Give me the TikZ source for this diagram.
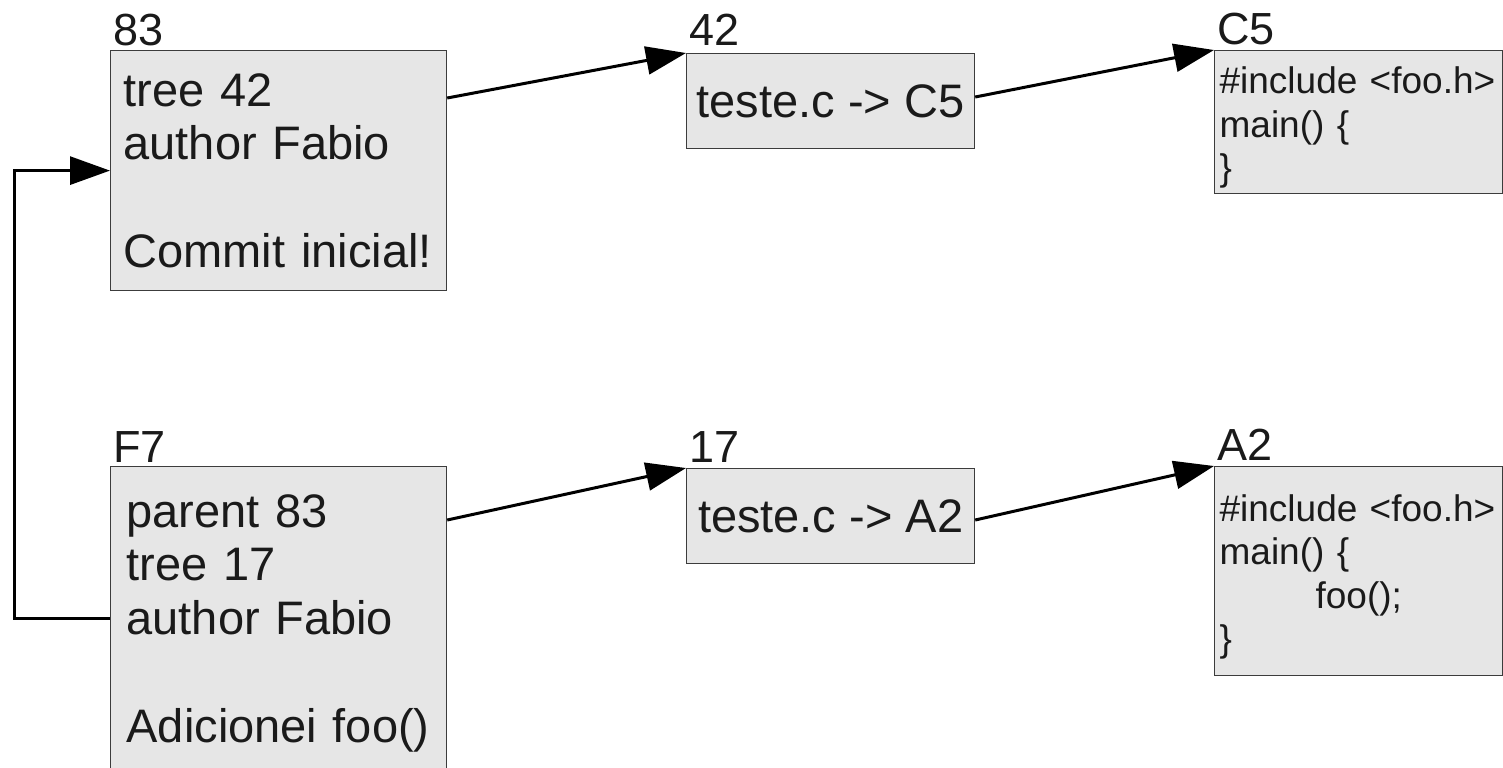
\documentclass[tikz,border=0pt]{standalone}
\usepackage{fontspec}
\setmainfont{Liberation Sans}
\usetikzlibrary{arrows.meta}
\definecolor{boxfill}{HTML}{E6E6E6}
\definecolor{boxline}{HTML}{3C3C3C}
\definecolor{ink}{HTML}{1A1A1A}

\begin{document}
\begin{tikzpicture}[x=0.5pt,y=-0.5pt,>={Triangle[length=20pt,width=14pt]},
  obj/.style={draw=boxline,fill=boxfill,line width=0.6pt,anchor=north west,inner ysep=0pt,text=ink,
    font=\fontsize{23.5}{26.85}\selectfont},
  commit/.style={obj,align=left,minimum width=168pt},
  treebox/.style={obj,inner xsep=0pt,minimum width=144pt,minimum height=47.5pt},
  code/.style={obj,align=left,text width=139pt,inner xsep=2.5pt,font=\fontsize{18.5}{21.75}\selectfont},
  tag/.style={anchor=base west,text=ink,inner sep=0pt,font=\fontsize{22.5}{26}\selectfont},
  link/.style={->,line width=1.5pt}]
\useasboundingbox (0,0) rectangle (1503,767);
% objects
\node[commit,text width=155pt,inner xsep=6.5pt,minimum height=120pt] (c83) at (110,50)
  {tree 42\\author Fabio\\\mbox{}\\Commit inicial!};
\node[commit,text width=152pt,inner xsep=8pt,minimum height=156.5pt] (cF7) at (110,466)
  {parent 83\\tree 17\\author Fabio\\\mbox{}\\Adicionei foo()};
\node[treebox] (t42) at (686,53) {teste.c -> C5};
\node[treebox] (t17) at (686,468) {teste.c -> A2};
\node[code,minimum height=71.5pt] (bC5) at (1214,50)
  {\rule{0pt}{19pt}\#include <foo.h>\\main() \{\\\}};
\node[code,minimum height=104.5pt] (bA2) at (1214,466)
  {\rule{0pt}{19pt}\#include <foo.h>\\main() \{\\\hspace*{48pt}foo();\\\}};
% hashes
\node[tag] (l83) at ([xshift=1.5pt,yshift=2.5pt]c83.north west) {83};
\node[tag] (lF7) at ([xshift=1.5pt,yshift=2pt]cF7.north west) {F7};
\node[tag] (l42) at ([xshift=1.5pt,yshift=4pt]t42.north west) {42};
\node[tag] (l17) at ([xshift=1.5pt,yshift=3pt]t17.north west) {17};
\node[tag] (lC5) at ([xshift=1.5pt,yshift=3pt]bC5.north west) {C5};
\node[tag] (lA2) at ([xshift=1.5pt,yshift=3pt]bA2.north west) {A2};
% pointers
\draw[link] ([yshift=-24pt]c83.north east) -- (t42.north west);
\draw[link] ([yshift=-22pt]t42.north east) -- (bC5.north west);
\draw[link] ([yshift=-27pt]cF7.north east) -- (t17.north west);
\draw[link] ([yshift=-26pt]t17.north east) -- (bA2.north west);
\draw[link] ([yshift=-76pt]cF7.north west) -- ++(-96,0) |- (c83.west);
\end{tikzpicture}
\end{document}
